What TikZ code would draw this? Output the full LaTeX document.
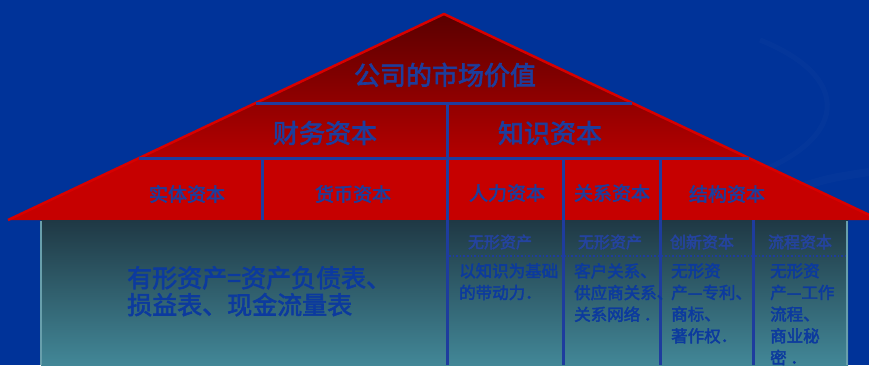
\documentclass[tikz,border=0pt]{standalone}
\usepackage{fontspec}
\newfontfamily\cjk{Noto Sans CJK SC}
\newfontfamily\cjkbold[FakeBold=2.5]{Noto Sans CJK SC}
\usepackage{tikz}
\definecolor{bg}{HTML}{003399}
\definecolor{roofdark}{HTML}{5A0000}
\definecolor{roofmid}{HTML}{B40000}
\definecolor{roofred}{HTML}{C60000}
\definecolor{rim}{HTML}{D80000}
\definecolor{rule}{HTML}{1E3C9E}
\definecolor{walltop}{HTML}{1F3844}
\definecolor{wallbot}{HTML}{428797}
\definecolor{ink}{HTML}{1D3D9C}
\definecolor{inkbody}{HTML}{0C3A9E}
\definecolor{inkhead}{HTML}{2443A0}
\tikzset{
  sep/.style={draw=rule, line width=3pt},
  roofrim/.style={draw=rim, line width=2.5pt, line join=round},
  wallrim/.style={draw=wallbot!80!white, line width=1.5pt},
  head/.style={text=ink, font=\cjkbold\fontsize{26}{26}\selectfont},
  sub/.style={text=ink, font=\cjkbold\fontsize{19}{19}\selectfont},
  colhead/.style={text=inkhead, font=\cjkbold\fontsize{16}{16}\selectfont},
  cell/.style={text=inkbody, font=\cjkbold\fontsize{16.5}{21.7}\selectfont,
    align=left, anchor=north west, inner sep=0pt},
  big/.style={text=inkbody, font=\cjkbold\fontsize{25}{27}\selectfont,
    align=left, anchor=north west, inner sep=0pt}
}

\begin{document}
\begin{tikzpicture}[x=1pt, y=-1pt]
  \useasboundingbox (0,0) rectangle (869,365);
  \clip (0,0) rectangle (869,365);
  \fill[bg] (0,0) rectangle (869,365);
  \draw[bg!85!white, opacity=0.12, line width=5pt] (760,40) .. controls (860,80) and (850,150) .. (720,185);
  \draw[bg!85!white, opacity=0.12, line width=8pt] (790,190) .. controls (830,178) .. (869,172);

  \coordinate (apex) at (444,14);
  \coordinate (eaveL) at (8,220);
  \coordinate (eaveR) at (880,220);

  % roof
  \shade[top color=roofdark, bottom color=roofmid] (apex) -- (139.2,158) -- (748.8,158) -- cycle;
  \fill[roofred] (139.2,158) -- (eaveL) -- (eaveR) -- (748.8,158) -- cycle;
  \draw[roofrim] (eaveL) -- (apex) -- (eaveR);

  % wall
  \shade[top color=walltop, bottom color=wallbot] (41,220) rectangle (848,365);
  \draw[wallrim] (41,221) -- (41,365);
  \draw[wallrim] (847,221) -- (847,365);

  % dividers
  \draw[sep] (255.6,103) -- (632.4,103);
  \draw[sep] (139.2,158) -- (748.8,158);
  \draw[sep] (447,103) -- (447,365);
  \draw[sep] (262,158) -- (262,220);
  \draw[sep] (563,158) -- (563,365);
  \draw[sep] (660,158) -- (660,365);
  \draw[sep] (753,220) -- (753,365);
  \draw[rule, line width=1.6pt, dotted] (449,256) -- (846,256);

  \node[head] (market) at (445,75) {公司的市场价值};
  \node[head] (finance) at (325,133) {财务资本};
  \node[head] (knowledge) at (550,133) {知识资本};

  \node[sub] (physical) at (187,194) {实体资本};
  \node[sub] (money) at (353,194) {货币资本};
  \node[sub] (human) at (507,193) {人力资本};
  \node[sub] (relation) at (612,193) {关系资本};
  \node[sub] (structure) at (727,194) {结构资本};

  \node[colhead] (intangA) at (500,242) {无形资产};
  \node[colhead] (intangB) at (610,242) {无形资产};
  \node[colhead] (innov) at (702,242) {创新资本};
  \node[colhead] (process) at (800,242) {流程资本};

  \node[big] (tangible) at (127,266) {有形资产=资产负债表、\\损益表、现金流量表};

  \node[cell] (humantxt) at (459,263) {以知识为基础\\的带动力．};
  \node[cell] (reltxt) at (574,263) {客户关系、\\供应商关系、\\关系网络 ．};
  \node[cell] (innovtxt) at (671,263) {无形资\\产—专利、\\商标、\\著作权．};
  \node[cell] (proctxt) at (770,263) {无形资\\产—工作\\流程、\\商业秘\\密 ．};
\end{tikzpicture}
\end{document}
